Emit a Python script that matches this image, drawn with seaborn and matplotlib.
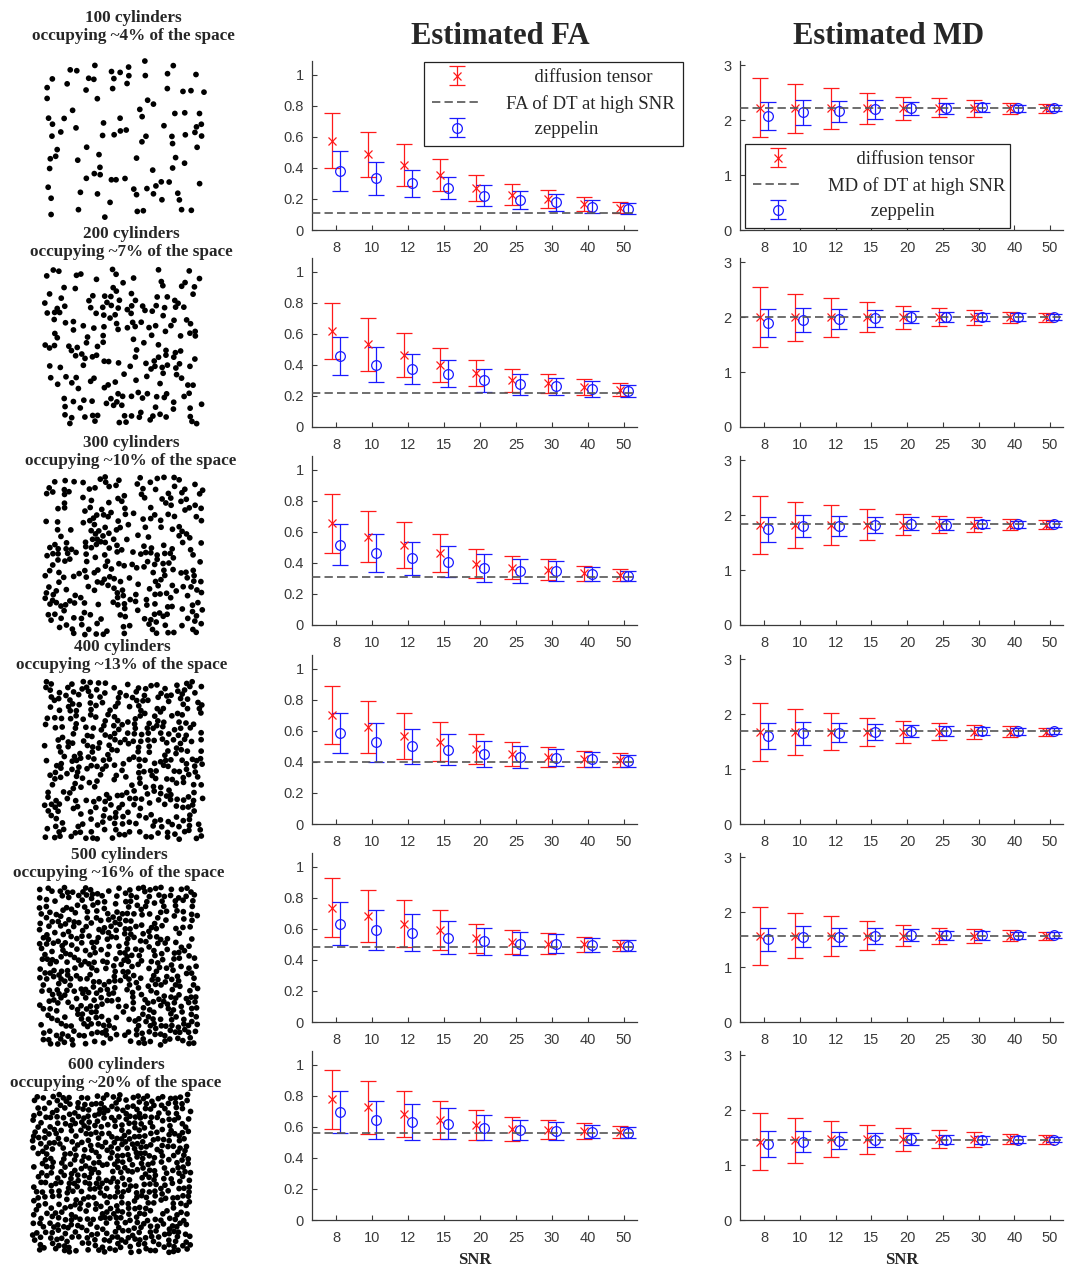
import numpy as np
import matplotlib
matplotlib.use('Agg')
import matplotlib.pyplot as plt
import seaborn as sns
import pandas as pd
from matplotlib.lines import Line2D

# ---- data ----
snr = [8, 10, 12, 15, 20, 25, 30, 40, 50]
n_cyl = [100, 200, 300, 400, 500, 600]
occupancy = [4, 7, 10, 13, 16, 20]

fa_ticks = [0, 0.2, 0.4, 0.6, 0.8, 1]
fa_ticklabels = ['0', '0.2', '0.4', '0.6', '0.8', '1']
md_ticks = [0, 1, 2, 3]
md_ticklabels = ['0', '1', '2', '3']

# FA of DT at high SNR (dashed line), one per row
fa_ref = [0.108, 0.22, 0.312, 0.40, 0.485, 0.559]
# MD of DT at high SNR
md_ref = [2.227, 2.0, 1.833, 1.69, 1.573, 1.467]

fa_dt_mean = [
    [0.577, 0.49, 0.42, 0.356, 0.27, 0.227, 0.20, 0.165, 0.145],
    [0.619, 0.533, 0.465, 0.40, 0.347, 0.30, 0.283, 0.26, 0.24],
    [0.656, 0.569, 0.515, 0.465, 0.394, 0.368, 0.357, 0.335, 0.325],
    [0.703, 0.628, 0.568, 0.531, 0.482, 0.45, 0.434, 0.42, 0.413],
    [0.736, 0.682, 0.635, 0.592, 0.539, 0.515, 0.506, 0.50, 0.494],
    [0.78, 0.727, 0.682, 0.645, 0.61, 0.589, 0.583, 0.574, 0.566],
]
fa_dt_err = [
    [0.18, 0.145, 0.135, 0.105, 0.085, 0.067, 0.06, 0.045, 0.035],
    [0.18, 0.17, 0.14, 0.11, 0.085, 0.075, 0.062, 0.052, 0.042],
    [0.19, 0.165, 0.148, 0.122, 0.093, 0.074, 0.067, 0.048, 0.038],
    [0.19, 0.168, 0.148, 0.124, 0.097, 0.078, 0.064, 0.054, 0.045],
    [0.19, 0.168, 0.15, 0.129, 0.094, 0.076, 0.065, 0.05, 0.037],
    [0.19, 0.17, 0.148, 0.124, 0.097, 0.077, 0.06, 0.052, 0.04],
]
fa_zep_mean = [
    [0.382, 0.333, 0.30, 0.27, 0.222, 0.194, 0.18, 0.15, 0.136],
    [0.458, 0.403, 0.375, 0.343, 0.30, 0.276, 0.263, 0.246, 0.233],
    [0.517, 0.465, 0.43, 0.407, 0.368, 0.346, 0.346, 0.327, 0.316],
    [0.585, 0.527, 0.50, 0.48, 0.452, 0.434, 0.428, 0.417, 0.406],
    [0.635, 0.592, 0.577, 0.545, 0.521, 0.506, 0.504, 0.498, 0.491],
    [0.695, 0.647, 0.634, 0.622, 0.594, 0.583, 0.574, 0.57, 0.563],
]
fa_zep_err = [
    [0.13, 0.108, 0.09, 0.073, 0.068, 0.06, 0.055, 0.043, 0.035],
    [0.12, 0.11, 0.095, 0.088, 0.076, 0.068, 0.056, 0.052, 0.04],
    [0.133, 0.124, 0.108, 0.10, 0.088, 0.077, 0.064, 0.046, 0.035],
    [0.13, 0.124, 0.112, 0.10, 0.085, 0.071, 0.057, 0.048, 0.038],
    [0.14, 0.13, 0.118, 0.107, 0.087, 0.076, 0.062, 0.046, 0.035],
    [0.135, 0.122, 0.116, 0.102, 0.08, 0.065, 0.055, 0.043, 0.037],
]

md_dt_mean = [
    [2.23, 2.215, 2.215, 2.215, 2.215, 2.227, 2.215, 2.215, 2.215],
    [2.0, 2.0, 2.0, 2.0, 2.0, 2.0, 2.0, 2.0, 2.0],
    [1.83, 1.83, 1.83, 1.83, 1.83, 1.83, 1.83, 1.83, 1.83],
    [1.678, 1.678, 1.678, 1.678, 1.678, 1.678, 1.678, 1.678, 1.678],
    [1.573, 1.573, 1.573, 1.573, 1.573, 1.573, 1.573, 1.573, 1.573],
    [1.424, 1.454, 1.47, 1.47, 1.47, 1.47, 1.47, 1.47, 1.47],
]
md_dt_err = [
    [0.54, 0.44, 0.38, 0.29, 0.21, 0.17, 0.15, 0.10, 0.08],
    [0.545, 0.43, 0.355, 0.277, 0.21, 0.166, 0.136, 0.096, 0.078],
    [0.53, 0.42, 0.363, 0.285, 0.196, 0.157, 0.133, 0.097, 0.082],
    [0.53, 0.415, 0.338, 0.262, 0.205, 0.154, 0.133, 0.10, 0.078],
    [0.53, 0.41, 0.363, 0.267, 0.194, 0.148, 0.127, 0.097, 0.076],
    [0.52, 0.41, 0.33, 0.26, 0.205, 0.163, 0.133, 0.094, 0.081],
]
md_zep_mean = [
    [2.076, 2.142, 2.167, 2.197, 2.221, 2.215, 2.233, 2.22, 2.22],
    [1.898, 1.946, 1.964, 1.98, 2.0, 2.0, 2.005, 2.005, 2.005],
    [1.742, 1.797, 1.809, 1.827, 1.845, 1.827, 1.84, 1.833, 1.845],
    [1.605, 1.654, 1.666, 1.678, 1.696, 1.69, 1.696, 1.69, 1.696],
    [1.506, 1.555, 1.549, 1.573, 1.585, 1.579, 1.579, 1.579, 1.585],
    [1.388, 1.424, 1.448, 1.46, 1.473, 1.46, 1.46, 1.467, 1.467],
]
md_zep_err = [
    [0.25, 0.22, 0.19, 0.175, 0.12, 0.10, 0.08, 0.066, 0.054],
    [0.256, 0.222, 0.18, 0.157, 0.105, 0.095, 0.08, 0.066, 0.052],
    [0.233, 0.2, 0.178, 0.15, 0.118, 0.097, 0.076, 0.067, 0.055],
    [0.24, 0.21, 0.17, 0.148, 0.115, 0.093, 0.08, 0.067, 0.055],
    [0.21, 0.19, 0.17, 0.148, 0.106, 0.088, 0.076, 0.061, 0.049],
    [0.232, 0.193, 0.157, 0.133, 0.11, 0.081, 0.07, 0.06, 0.052],
]

# ---- style ----
sns.set_theme(style='ticks')
plt.rcParams['font.family'] = ['Liberation Sans', 'DejaVu Sans']
plt.rcParams['axes.linewidth'] = 0.9
SERIF = ['Liberation Serif', 'DejaVu Serif']
AX_COL = '#3a3a3a'
RED = '#ff1a1a'
BLUE = '#1a1aff'

W, H = 1071, 1269
fig = plt.figure(figsize=(W / 100, H / 100), dpi=100)


def fig_rect(x0, y_top, w, h):
    return [x0 / W, 1 - (y_top + h) / H, w / W, h / H]


row_bottom = [230, 427, 625, 824, 1022, 1220]
ax_h = 169
pos = np.arange(1, len(snr) + 1)


def errplot(ax, dt_vals, zep_vals, ref, ticks, ticklabels, ymax):
    dt = ax.errorbar(pos - 0.12, dt_vals[0], yerr=dt_vals[1], fmt='x', color=RED,
                     ms=6, mew=0.9, elinewidth=0.9, capsize=5.5, capthick=0.9)
    zp = ax.errorbar(pos + 0.1, zep_vals[0], yerr=zep_vals[1], fmt='o', color=BLUE,
                     mfc='none', mec=BLUE, ms=7, mew=0.9, elinewidth=0.9,
                     capsize=5.5, capthick=0.9)
    ax.axhline(ref, color='#555555', lw=1.2, ls=(0, (5, 2.5)), zorder=4)
    ax.set_xlim(0.33, 9.36)
    ax.set_ylim(0, ymax)
    ax.set_xticks(pos)
    ax.set_xticklabels([str(s) for s in snr])
    ax.set_yticks(ticks)
    ax.set_yticklabels(ticklabels)
    ax.tick_params(direction='in', length=3.5, width=0.8, pad=6,
                   labelsize=10.5, colors=AX_COL)
    ax.tick_params(axis='x', pad=8)
    for sp in ['left', 'bottom']:
        ax.spines[sp].set_color(AX_COL)
    sns.despine(ax=ax)
    ax.grid(False)
    return dt, zp


rng = np.random.default_rng(7)  # cylinder layout is illustrative only


def place_cylinders(n, dmin):
    pts = []
    while len(pts) < n:
        c = rng.uniform(0.02, 0.98, 2)
        if not pts or np.min(np.hypot(*(np.array(pts) - c).T)) > dmin:
            pts.append(c)
    return pd.DataFrame(pts, columns=['x', 'y'])


dot_boxes = [(43, 56), (41, 266), (41, 473), (41, 678), (36, 884), (29, 1091)]
label_pos = [(133, 27), (131, 243), (131, 452), (122, 656), (119, 864), (116, 1074)]

for i in range(6):
    # left column: cylinder cross-sections
    axc = fig.add_axes(fig_rect(dot_boxes[i][0], dot_boxes[i][1], 165, 165))
    cyl = place_cylinders(n_cyl[i], 0.026)
    sns.scatterplot(data=cyl, x='x', y='y', ax=axc, s=17, color='black',
                    edgecolor='none', linewidth=0, legend=False)
    axc.set_xlim(0, 1)
    axc.set_ylim(0, 1)
    axc.set_axis_off()
    fig.text(label_pos[i][0] / W, 1 - label_pos[i][1] / H,
             f'{n_cyl[i]} cylinders\noccupying ~{occupancy[i]}% of the space',
             ha='center', va='center', family=SERIF, fontweight='bold',
             fontsize=12.3, linespacing=1.1)

    b = row_bottom[i]
    ax_fa = fig.add_axes(fig_rect(312, b - ax_h, 325, ax_h))
    h_fa = errplot(ax_fa, (fa_dt_mean[i], fa_dt_err[i]),
                   (fa_zep_mean[i], fa_zep_err[i]), fa_ref[i],
                   fa_ticks, fa_ticklabels, 1.09)
    ax_md = fig.add_axes(fig_rect(740, b - ax_h, 323, ax_h))
    h_md = errplot(ax_md, (md_dt_mean[i], md_dt_err[i]),
                   (md_zep_mean[i], md_zep_err[i]), md_ref[i],
                   md_ticks, md_ticklabels, 3.08)

    if i == 0:
        dash = Line2D([], [], color='#555555', lw=1.2, ls=(0, (5, 2.5)))
        for ax, hh, labels, box in [
            (ax_fa, h_fa, ['      diffusion tensor', 'FA of DT at high SNR',
                           '      zeppelin'], (424, 63, 259)),
            (ax_md, h_md, ['      diffusion tensor', 'MD of DT at high SNR',
                           '         zeppelin'], (745, 145, 265)),
        ]:
            leg = ax.legend([hh[0], dash, hh[1]], labels,
                            loc='upper left', mode='expand',
                            bbox_to_anchor=(box[0] / W, 1 - box[1] / H,
                                            box[2] / W, 0.001),
                            bbox_transform=fig.transFigure, borderaxespad=0,
                            prop={'family': SERIF, 'size': 13.5},
                            handlelength=2.7, handletextpad=1.3,
                            labelspacing=0.45, borderpad=0.4,
                            fancybox=False, framealpha=1, edgecolor='#222222')
            leg.get_frame().set_linewidth(0.9)
            leg.set_zorder(10)

    if i == 5:
        for ax in (ax_fa, ax_md):
            ax.set_xlabel('SNR', family=SERIF, fontweight='bold',
                          fontsize=12, labelpad=5)

fig.text(500 / W, 1 - 36 / H, 'Estimated FA', ha='center', va='center',
         family=SERIF, fontweight='bold', fontsize=22)
fig.text(889 / W, 1 - 36 / H, 'Estimated MD', ha='center', va='center',
         family=SERIF, fontweight='bold', fontsize=22)

fig.savefig('out.png', dpi=100, facecolor='white')
